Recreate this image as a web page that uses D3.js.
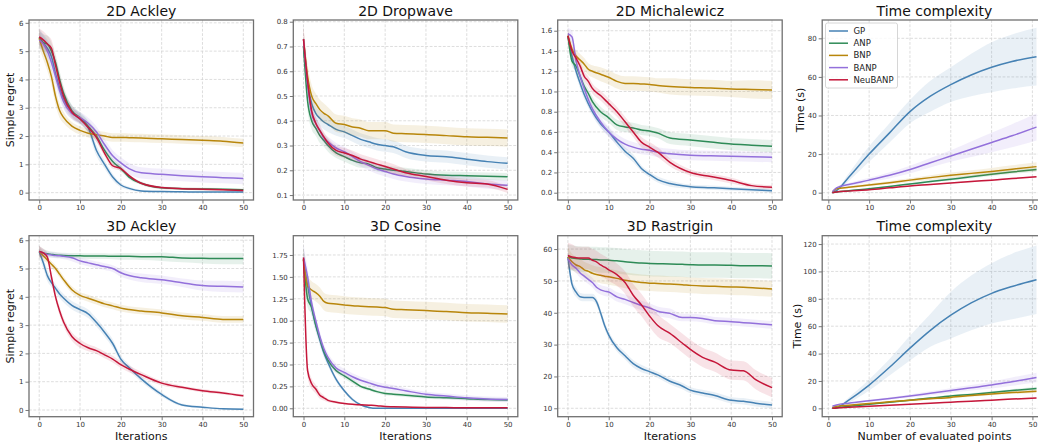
<!DOCTYPE html>
<html>
<head>
<meta charset="utf-8">
<script src="https://cdn.jsdelivr.net/npm/d3@7"></script>
<style>
  body { margin: 0; background: #fff; }
  text { font-family: "DejaVu Sans", sans-serif; }
</style>
</head>
<body>
<script>
// method names and colours (GP, ANP, BNP, BANP, NeuBANP)
const methods = ['GP', 'ANP', 'BNP', 'BANP', 'NeuBANP'];
const colors = ['#4682b4', '#2e8b57', '#b8860b', '#9370db', '#c5173a'];

// iteration grids
const iterX = [0, 1, 2, 3, 4, 5, 6, 8, 10, 12, 14, 16, 18, 20, 22, 25, 30, 35, 40, 45, 50];
const rastX = [0, 1, 2, 3, 4, 5, 6, 7, 8, 9, 10, 12, 14, 16, 18, 20, 22, 25, 28, 30, 33, 36, 40, 43, 46, 50];
const timeX = [1, 2, 5, 10, 15, 20, 25, 30, 35, 40, 45, 51];

// 2D Ackley
const ackley2dMean = [
  [5.5, 5.3, 5.1, 4.8, 4.2, 3.7, 3.3, 2.85, 2.6, 2.3, 1.5, 1.0, 0.55, 0.27, 0.15, 0.06, 0.04, 0.03, 0.02, 0.02, 0.02],
  [5.45, 5.3, 5.25, 5.0, 4.6, 4.0, 3.5, 2.9, 2.65, 2.35, 2.0, 1.5, 1.1, 0.85, 0.55, 0.33, 0.17, 0.14, 0.13, 0.12, 0.1],
  [5.45, 5.0, 4.6, 4.1, 3.4, 2.9, 2.65, 2.35, 2.2, 2.1, 2.05, 2.0, 1.95, 1.95, 1.94, 1.93, 1.9, 1.88, 1.85, 1.82, 1.75],
  [5.4, 5.25, 5.0, 4.6, 4.1, 3.6, 3.2, 2.8, 2.65, 2.45, 2.15, 1.7, 1.3, 1.05, 0.85, 0.7, 0.65, 0.6, 0.56, 0.53, 0.5],
  [5.5, 5.4, 5.25, 5.1, 4.5, 3.9, 3.4, 2.85, 2.6, 2.3, 1.95, 1.4, 0.95, 0.85, 0.6, 0.33, 0.18, 0.14, 0.12, 0.1, 0.08]
];
const ackley2dBand = [
  [0.3, 0.3, 0.3, 0.3, 0.3, 0.3, 0.3, 0.25, 0.2, 0.2, 0.2, 0.15, 0.12, 0.08, 0.06, 0.04, 0.03, 0.03, 0.02, 0.02, 0.02],
  [0.3, 0.3, 0.3, 0.3, 0.3, 0.3, 0.25, 0.2, 0.2, 0.2, 0.2, 0.15, 0.12, 0.1, 0.08, 0.06, 0.05, 0.05, 0.05, 0.04, 0.04],
  [0.3, 0.3, 0.3, 0.3, 0.3, 0.25, 0.2, 0.15, 0.15, 0.15, 0.15, 0.15, 0.15, 0.15, 0.15, 0.15, 0.15, 0.15, 0.15, 0.15, 0.15],
  [0.3, 0.3, 0.3, 0.3, 0.3, 0.3, 0.25, 0.2, 0.2, 0.2, 0.2, 0.2, 0.2, 0.2, 0.2, 0.2, 0.2, 0.2, 0.2, 0.2, 0.2],
  [0.3, 0.3, 0.3, 0.3, 0.3, 0.3, 0.25, 0.2, 0.15, 0.15, 0.15, 0.12, 0.1, 0.08, 0.06, 0.05, 0.04, 0.04, 0.04, 0.04, 0.04]
];

// 2D Dropwave
const dropwaveMean = [
  [0.70, 0.55, 0.47, 0.43, 0.41, 0.395, 0.385, 0.365, 0.355, 0.34, 0.325, 0.315, 0.305, 0.30, 0.295, 0.275, 0.26, 0.255, 0.245, 0.235, 0.228],
  [0.70, 0.48, 0.40, 0.37, 0.34, 0.32, 0.30, 0.27, 0.255, 0.24, 0.23, 0.225, 0.21, 0.205, 0.20, 0.195, 0.185, 0.18, 0.178, 0.176, 0.174],
  [0.73, 0.58, 0.50, 0.47, 0.445, 0.43, 0.42, 0.39, 0.385, 0.375, 0.37, 0.36, 0.36, 0.36, 0.35, 0.348, 0.345, 0.34, 0.335, 0.333, 0.33],
  [0.73, 0.55, 0.43, 0.39, 0.36, 0.33, 0.315, 0.29, 0.275, 0.255, 0.235, 0.22, 0.205, 0.195, 0.185, 0.175, 0.165, 0.16, 0.155, 0.145, 0.14],
  [0.73, 0.56, 0.44, 0.39, 0.36, 0.335, 0.31, 0.28, 0.27, 0.26, 0.245, 0.235, 0.225, 0.215, 0.205, 0.19, 0.175, 0.16, 0.15, 0.145, 0.123]
];
const dropwaveBand = [
  [0.04, 0.04, 0.035, 0.03, 0.03, 0.03, 0.03, 0.025, 0.025, 0.025, 0.025, 0.025, 0.025, 0.025, 0.025, 0.025, 0.025, 0.025, 0.025, 0.025, 0.025],
  [0.04, 0.04, 0.035, 0.03, 0.03, 0.025, 0.025, 0.02, 0.02, 0.02, 0.02, 0.015, 0.015, 0.015, 0.015, 0.015, 0.015, 0.015, 0.015, 0.015, 0.015],
  [0.05, 0.05, 0.045, 0.04, 0.04, 0.04, 0.035, 0.035, 0.035, 0.035, 0.035, 0.035, 0.035, 0.035, 0.035, 0.035, 0.035, 0.035, 0.035, 0.035, 0.035],
  [0.05, 0.04, 0.03, 0.025, 0.02, 0.02, 0.02, 0.02, 0.02, 0.02, 0.02, 0.02, 0.02, 0.02, 0.02, 0.02, 0.02, 0.02, 0.02, 0.02, 0.02],
  [0.05, 0.04, 0.03, 0.025, 0.025, 0.02, 0.02, 0.02, 0.02, 0.02, 0.02, 0.02, 0.02, 0.02, 0.02, 0.015, 0.015, 0.015, 0.015, 0.015, 0.015]
];

// 2D Michalewicz
const michalMean = [
  [1.55, 1.35, 1.2, 1.08, 0.97, 0.88, 0.8, 0.68, 0.6, 0.5, 0.41, 0.34, 0.24, 0.18, 0.13, 0.09, 0.06, 0.05, 0.04, 0.03, 0.02],
  [1.55, 1.3, 1.25, 1.15, 1.05, 0.98, 0.9, 0.80, 0.74, 0.67, 0.65, 0.64, 0.62, 0.61, 0.59, 0.54, 0.52, 0.5, 0.48, 0.47, 0.46],
  [1.55, 1.42, 1.35, 1.31, 1.27, 1.22, 1.2, 1.17, 1.14, 1.1, 1.08, 1.08, 1.075, 1.07, 1.06, 1.05, 1.04, 1.035, 1.025, 1.02, 1.015],
  [1.57, 1.54, 1.3, 1.15, 1.03, 0.92, 0.83, 0.7, 0.6, 0.53, 0.48, 0.45, 0.43, 0.42, 0.4, 0.385, 0.37, 0.365, 0.36, 0.355, 0.35],
  [1.55, 1.4, 1.33, 1.25, 1.15, 1.1, 1.03, 0.96, 0.88, 0.8, 0.7, 0.6, 0.5, 0.45, 0.4, 0.3, 0.2, 0.16, 0.12, 0.07, 0.055]
];
const michalBand = [
  [0.05, 0.05, 0.05, 0.05, 0.05, 0.04, 0.04, 0.04, 0.04, 0.04, 0.04, 0.04, 0.03, 0.03, 0.03, 0.03, 0.02, 0.02, 0.02, 0.02, 0.02],
  [0.05, 0.05, 0.05, 0.05, 0.05, 0.05, 0.05, 0.05, 0.05, 0.05, 0.05, 0.05, 0.05, 0.05, 0.05, 0.06, 0.06, 0.06, 0.06, 0.06, 0.06],
  [0.06, 0.06, 0.06, 0.06, 0.06, 0.06, 0.06, 0.07, 0.07, 0.07, 0.07, 0.07, 0.07, 0.07, 0.07, 0.08, 0.08, 0.08, 0.08, 0.09, 0.09],
  [0.06, 0.06, 0.05, 0.05, 0.05, 0.05, 0.05, 0.05, 0.05, 0.05, 0.05, 0.05, 0.05, 0.05, 0.05, 0.05, 0.05, 0.05, 0.05, 0.05, 0.05],
  [0.05, 0.05, 0.05, 0.05, 0.05, 0.05, 0.05, 0.05, 0.05, 0.05, 0.05, 0.05, 0.05, 0.05, 0.05, 0.04, 0.03, 0.03, 0.03, 0.02, 0.02]
];

// Time complexity (top)
const time2dMean = [
  [0, 1, 8, 20, 31, 42, 50, 56, 61, 65, 68, 70.5],
  [0, 0.3, 1, 2, 3.2, 4.5, 5.8, 7, 8.2, 9.5, 10.7, 12],
  [0.3, 2, 2.8, 4, 5.2, 6.5, 7.8, 9, 10, 11, 12.2, 13.5],
  [0.5, 2.5, 4.2, 6.5, 9, 12, 15.5, 19, 22.5, 26, 29.5, 34],
  [0, 0.3, 0.8, 1.5, 2.5, 3.5, 4.2, 5, 5.8, 6.5, 7.3, 8.2]
];
const time2dBand = [
  [0, 0.5, 2, 4, 5, 6, 8, 9, 11, 13, 14, 15],
  [0, 0.1, 0.2, 0.3, 0.4, 0.5, 0.6, 0.7, 0.8, 0.9, 1, 1.1],
  [0.1, 0.3, 0.5, 0.7, 0.9, 1, 1.2, 1.4, 1.6, 1.8, 2, 2.3],
  [0.1, 0.5, 0.8, 1.2, 1.6, 2, 2.5, 3, 4, 5, 6, 7],
  [0, 0.1, 0.1, 0.2, 0.2, 0.3, 0.3, 0.3, 0.4, 0.4, 0.4, 0.5]
];

// 3D Ackley
const ackley3dMean = [
  [5.6, 5.2, 4.75, 4.5, 4.3, 4.1, 3.95, 3.7, 3.55, 3.4, 3.1, 2.75, 2.35, 1.8, 1.5, 1.1, 0.55, 0.18, 0.1, 0.04, 0.03],
  [5.6, 5.55, 5.52, 5.5, 5.48, 5.47, 5.46, 5.45, 5.45, 5.44, 5.44, 5.44, 5.43, 5.43, 5.43, 5.42, 5.42, 5.37, 5.36, 5.35, 5.35],
  [5.6, 5.45, 5.3, 5.15, 5.0, 4.8, 4.6, 4.25, 4.05, 3.95, 3.85, 3.75, 3.68, 3.6, 3.55, 3.5, 3.43, 3.33, 3.27, 3.2, 3.2],
  [5.6, 5.55, 5.5, 5.48, 5.46, 5.45, 5.43, 5.38, 5.27, 5.2, 5.13, 5.07, 5.0, 4.85, 4.75, 4.67, 4.6, 4.5, 4.4, 4.37, 4.35],
  [5.6, 5.55, 5.4, 4.7, 4.0, 3.5, 3.1, 2.6, 2.35, 2.2, 2.1, 1.95, 1.8, 1.6, 1.45, 1.25, 0.95, 0.8, 0.68, 0.6, 0.5]
];
const ackley3dBand = [
  [0.2, 0.2, 0.2, 0.15, 0.15, 0.15, 0.15, 0.15, 0.15, 0.15, 0.15, 0.15, 0.15, 0.12, 0.12, 0.1, 0.08, 0.05, 0.04, 0.03, 0.03],
  [0.2, 0.15, 0.12, 0.1, 0.1, 0.1, 0.1, 0.1, 0.1, 0.1, 0.1, 0.1, 0.1, 0.12, 0.12, 0.12, 0.15, 0.15, 0.18, 0.2, 0.2],
  [0.2, 0.15, 0.12, 0.12, 0.12, 0.12, 0.12, 0.12, 0.12, 0.12, 0.12, 0.12, 0.12, 0.12, 0.12, 0.12, 0.12, 0.12, 0.12, 0.12, 0.12],
  [0.2, 0.12, 0.1, 0.1, 0.1, 0.1, 0.1, 0.12, 0.12, 0.12, 0.12, 0.12, 0.12, 0.14, 0.14, 0.15, 0.15, 0.15, 0.18, 0.2, 0.2],
  [0.2, 0.15, 0.15, 0.15, 0.15, 0.15, 0.15, 0.15, 0.15, 0.12, 0.12, 0.12, 0.12, 0.12, 0.12, 0.1, 0.08, 0.06, 0.06, 0.05, 0.05]
];

// 3D Cosine
const cosineMean = [
  [1.7, 1.4, 1.15, 0.95, 0.78, 0.63, 0.52, 0.33, 0.2, 0.1, 0.04, 0.01, 0.0, 0.0, 0.0, 0.0, 0.0, 0.0, 0.0, 0.0, 0.0],
  [1.7, 1.25, 1.15, 0.95, 0.8, 0.65, 0.55, 0.43, 0.37, 0.31, 0.25, 0.22, 0.19, 0.17, 0.16, 0.15, 0.13, 0.12, 0.11, 0.1, 0.095],
  [1.7, 1.4, 1.35, 1.32, 1.28, 1.22, 1.2, 1.19, 1.18, 1.17, 1.165, 1.16, 1.155, 1.15, 1.13, 1.125, 1.115, 1.105, 1.09, 1.085, 1.075],
  [1.72, 1.5, 1.2, 1.0, 0.82, 0.68, 0.58, 0.46, 0.41, 0.36, 0.32, 0.29, 0.26, 0.24, 0.225, 0.2, 0.16, 0.14, 0.12, 0.105, 0.1],
  [1.72, 0.43, 0.28, 0.22, 0.15, 0.12, 0.09, 0.07, 0.055, 0.045, 0.04, 0.035, 0.03, 0.02, 0.018, 0.015, 0.01, 0.008, 0.006, 0.005, 0.005]
];
const cosineBand = [
  [0.15, 0.1, 0.1, 0.08, 0.06, 0.05, 0.04, 0.03, 0.02, 0.02, 0.01, 0.01, 0.005, 0.005, 0.005, 0.005, 0.005, 0.005, 0.005, 0.005, 0.005],
  [0.15, 0.1, 0.08, 0.06, 0.05, 0.04, 0.04, 0.03, 0.03, 0.03, 0.02, 0.02, 0.02, 0.02, 0.02, 0.02, 0.02, 0.02, 0.02, 0.02, 0.02],
  [0.15, 0.12, 0.1, 0.1, 0.1, 0.1, 0.1, 0.1, 0.1, 0.1, 0.1, 0.1, 0.1, 0.1, 0.1, 0.1, 0.1, 0.1, 0.1, 0.1, 0.1],
  [0.15, 0.1, 0.08, 0.06, 0.06, 0.05, 0.05, 0.05, 0.04, 0.04, 0.04, 0.04, 0.04, 0.04, 0.04, 0.03, 0.03, 0.03, 0.03, 0.03, 0.03],
  [0.1, 0.08, 0.06, 0.05, 0.04, 0.03, 0.02, 0.015, 0.01, 0.01, 0.01, 0.01, 0.005, 0.005, 0.005, 0.005, 0.005, 0.005, 0.005, 0.005, 0.005]
];

// 3D Rastrigin
const rastMean = [
  [57.5, 49, 46.5, 45, 44.8, 44.8, 44.8, 43.5, 40, 36, 33, 29, 26.5, 24, 22.5, 21.5, 20.5, 18.5, 17, 15.7, 14.8, 14, 12.5, 12.2, 11.6, 11],
  [57.5, 57.2, 57, 56.9, 56.8, 56.8, 56.7, 56.7, 56.6, 56.6, 56.5, 56.3, 56, 55.8, 55.6, 55.5, 55.4, 55.3, 55.2, 55.1, 55, 55, 54.9, 54.8, 54.8, 54.7],
  [57.5, 56, 55, 54.5, 53.5, 53, 52.4, 52, 51.8, 51.5, 51.3, 50.8, 50.2, 49.8, 49.5, 49.3, 49.2, 49, 48.8, 48.6, 48.4, 48.3, 48.1, 48, 47.8, 47.5],
  [57, 55, 54, 52.5, 51.5, 50.5, 49.5, 48, 47.2, 46.8, 46.5, 45, 44.2, 43.2, 42.3, 41.5, 40.5, 39.8, 38.5, 38.5, 38.2, 37.5, 37.2, 36.9, 36.6, 36.2],
  [58, 57.5, 57.3, 57.2, 57.2, 57.2, 56.5, 56, 55, 54.3, 53.5, 52, 49.5, 45.5, 42.5, 39, 36, 33.5, 30.5, 28.5, 26, 24.5, 22, 21.8, 19, 16.5]
];
const rastBand = [
  [2, 1.5, 1.5, 1.2, 1.2, 1.2, 1.2, 1.2, 1.2, 1.2, 1.2, 1.2, 1.2, 1.2, 1.2, 1, 1, 1, 1, 1, 1, 1, 1, 1, 1, 1],
  [4, 4, 4, 4, 4, 4, 4, 4, 4, 4, 4, 4, 4, 4, 4, 4, 4, 4, 4, 4, 4, 4, 4, 4, 4, 4],
  [3, 2.5, 2.5, 2.5, 2.5, 2.5, 2.5, 2.5, 2.5, 2.5, 2.5, 2.5, 2.5, 2.5, 2.5, 2.5, 2.5, 2.5, 2.5, 2.5, 2.5, 2.5, 2.5, 2.5, 2.5, 2.5],
  [2, 1.5, 1.5, 1.5, 1.5, 1.5, 1.5, 1.5, 1.5, 1.5, 1.5, 1.5, 1.5, 1.5, 1.5, 1.5, 1.5, 1.5, 1.2, 1.2, 1.2, 1.2, 1.2, 1.2, 1.2, 1.2],
  [4, 4, 3.5, 3.5, 3.5, 3.5, 3.5, 3.5, 3.5, 3.5, 3.5, 3.5, 3.5, 3.5, 3.5, 3.5, 3.5, 3, 3, 3, 3, 3, 3, 3, 3, 3]
];

// Time complexity (bottom)
const time3dMean = [
  [0, 0.5, 6, 17, 30, 44, 57, 68, 77, 84, 89, 94],
  [0, 0.5, 1.5, 3, 4.5, 6, 7.5, 9, 10.2, 11.5, 13, 14.5],
  [0.5, 1.5, 2.3, 3.5, 4.8, 6, 7, 8, 9.3, 10.5, 11.5, 12.5],
  [1.5, 2.5, 3.8, 5.5, 7.2, 9, 11, 13, 15, 17, 19.5, 22.5],
  [0, 0.3, 0.8, 1.5, 2.3, 3, 3.8, 4.5, 5.2, 6, 6.8, 7.5]
];
const time3dBand = [
  [0, 0.3, 2, 4, 6, 9, 12, 17, 20, 22, 24, 25],
  [0, 0.1, 0.2, 0.3, 0.4, 0.5, 0.6, 0.7, 0.8, 0.9, 1, 1.2],
  [0.1, 0.2, 0.3, 0.4, 0.5, 0.6, 0.7, 0.8, 0.9, 1, 1.1, 1.2],
  [0.2, 0.3, 0.5, 0.7, 0.9, 1.1, 1.4, 1.7, 2, 2.5, 3, 3.5],
  [0, 0.05, 0.1, 0.15, 0.2, 0.25, 0.3, 0.35, 0.4, 0.45, 0.5, 0.5]
];

const xTicks = [0, 10, 20, 30, 40, 50];

// panel table
const panels = [
  { title: '2D Ackley', xs: iterX, mean: ackley2dMean, band: ackley2dBand, xDom: [-2.5, 52.5], yDom: [-0.26, 6.10],
    yTicks: [0, 1, 2, 3, 4, 5, 6], fmt: d3.format('d'), col: 0, row: 0, ylabel: 'Simple regret', ylabelOff: 15 },
  { title: '2D Dropwave', xs: iterX, mean: dropwaveMean, band: dropwaveBand, xDom: [-2.5, 52.5], yDom: [0.08, 0.807],
    yTicks: [0.1, 0.2, 0.3, 0.4, 0.5, 0.6, 0.7, 0.8], fmt: d3.format('.1f'), col: 1, row: 0 },
  { title: '2D Michalewicz', xs: iterX, mean: michalMean, band: michalBand, xDom: [-2.5, 52.5], yDom: [-0.072, 1.706],
    yTicks: [0, 0.2, 0.4, 0.6, 0.8, 1.0, 1.2, 1.4, 1.6], fmt: d3.format('.1f'), col: 2, row: 0 },
  { title: 'Time complexity', xs: timeX, mean: time2dMean, band: time2dBand, xDom: [-1.5, 53.5], yDom: [-3.8, 89.5],
    yTicks: [0, 20, 40, 60, 80], fmt: d3.format('d'), col: 3, row: 0, ylabel: 'Time (s)', ylabelOff: 18.7, legend: true },
  { title: '3D Ackley', xs: iterX, mean: ackley3dMean, band: ackley3dBand, xDom: [-2.5, 52.5], yDom: [-0.237, 6.16],
    yTicks: [0, 1, 2, 3, 4, 5, 6], fmt: d3.format('d'), col: 0, row: 1, ylabel: 'Simple regret', ylabelOff: 15, xlabel: 'Iterations' },
  { title: '3D Cosine', xs: iterX, mean: cosineMean, band: cosineBand, xDom: [-2.5, 52.5], yDom: [-0.096, 1.97],
    yTicks: [0, 0.25, 0.5, 0.75, 1.0, 1.25, 1.5, 1.75], fmt: d3.format('.2f'), col: 1, row: 1, xlabel: 'Iterations' },
  { title: '3D Rastrigin', xs: rastX, mean: rastMean, band: rastBand, xDom: [-2.5, 52.5], yDom: [7.36, 64.2],
    yTicks: [10, 20, 30, 40, 50, 60], fmt: d3.format('d'), col: 2, row: 1, xlabel: 'Iterations' },
  { title: 'Time complexity', xs: timeX, mean: time3dMean, band: time3dBand, xDom: [-1.5, 53.5], yDom: [-6.1, 126.1],
    yTicks: [0, 20, 40, 60, 80, 100, 120], fmt: d3.format('d'), col: 3, row: 1, ylabel: 'Time (s)', ylabelOff: 21.2, xlabel: 'Number of evaluated points' }
];

// layout
const lefts = [29, 293.3, 557.7, 822.2];
const panelW = 224.5;
const tops = [20, 235.7];
const heights = [180, 181];

const svg = d3.select('body').append('svg')
  .attr('width', 1038)
  .attr('height', 444);

panels.forEach((p, pi) => {
  const l = lefts[p.col], t = tops[p.row], h = heights[p.row];
  const x = d3.scaleLinear().domain(p.xDom).range([l, l + panelW]);
  const y = d3.scaleLinear().domain(p.yDom).range([t + h, t]);
  const g = svg.append('g');

  g.append('clipPath').attr('id', 'clip' + pi)
    .append('rect').attr('x', l).attr('y', t).attr('width', panelW).attr('height', h);

  // grid
  const grid = g.append('g')
    .attr('stroke', '#d4d4d4')
    .attr('stroke-width', 0.8)
    .attr('stroke-dasharray', '2.8,1.6');
  grid.selectAll('.vg').data(xTicks).enter().append('line')
    .attr('x1', d => x(d)).attr('x2', d => x(d)).attr('y1', t).attr('y2', t + h);
  grid.selectAll('.hg').data(p.yTicks).enter().append('line')
    .attr('y1', d => y(d)).attr('y2', d => y(d)).attr('x1', l).attr('x2', l + panelW);

  const plot = g.append('g').attr('clip-path', `url(#clip${pi})`);

  methods.forEach((m, mi) => {
    const mean = p.mean[mi], band = p.band[mi];
    const area = d3.area()
      .x((d, i) => x(p.xs[i]))
      .y0((d, i) => y(d - band[i]))
      .y1((d, i) => y(d + band[i]))
      .curve(d3.curveMonotoneX);
    plot.append('path')
      .attr('d', area(mean))
      .attr('fill', colors[mi])
      .attr('fill-opacity', 0.12);

    const line = d3.line()
      .x((d, i) => x(p.xs[i]))
      .y(d => y(d))
      .curve(d3.curveMonotoneX);
    plot.append('path')
      .attr('d', line(mean))
      .attr('fill', 'none')
      .attr('stroke', colors[mi])
      .attr('stroke-width', 1.5);
  });

  // axes
  const yAxis = g.append('g')
    .attr('transform', `translate(${l},0)`)
    .call(d3.axisLeft(y).tickValues(p.yTicks).tickFormat(p.fmt).tickSize(3.5).tickPadding(2));
  const xAxis = g.append('g')
    .attr('transform', `translate(0,${t + h})`)
    .call(d3.axisBottom(x).tickValues(xTicks).tickFormat(d3.format('d')).tickSize(3.5).tickPadding(1.8));
  [yAxis, xAxis].forEach(a => {
    a.select('.domain').remove();
    a.selectAll('line').attr('stroke', '#555').attr('stroke-width', 0.8);
    a.selectAll('text')
      .attr('fill', '#333')
      .style('font-family', '"DejaVu Sans", sans-serif')
      .style('font-size', '7px');
  });

  // frame
  g.append('rect')
    .attr('x', l).attr('y', t).attr('width', panelW).attr('height', h)
    .attr('fill', 'none')
    .attr('stroke', '#707070')
    .attr('stroke-width', 1.3);

  // title
  g.append('text')
    .attr('x', l + panelW / 2).attr('y', t - 4.5)
    .attr('text-anchor', 'middle')
    .style('font-size', '14px')
    .attr('fill', '#111')
    .text(p.title);

  if (p.ylabel) {
    g.append('text')
      .attr('transform', `translate(${l - p.ylabelOff},${t + h / 2}) rotate(-90)`)
      .attr('text-anchor', 'middle')
      .style('font-size', '11px')
      .attr('fill', '#111')
      .text(p.ylabel);
  }
  if (p.xlabel) {
    g.append('text')
      .attr('x', l + panelW / 2).attr('y', t + h + 23.5)
      .attr('text-anchor', 'middle')
      .style('font-size', '11px')
      .attr('fill', '#111')
      .text(p.xlabel);
  }

  if (p.legend) {
    const lg = g.append('g');
    lg.append('rect')
      .attr('x', 825.5).attr('y', 23).attr('width', 72).attr('height', 65)
      .attr('rx', 2)
      .attr('fill', '#fff').attr('fill-opacity', 0.8)
      .attr('stroke', '#cccccc').attr('stroke-width', 0.8);
    methods.forEach((m, mi) => {
      const cy = 31 + mi * 12.2;
      lg.append('line')
        .attr('x1', 829).attr('x2', 848).attr('y1', cy).attr('y2', cy)
        .attr('stroke', colors[mi]).attr('stroke-width', 1.5);
      lg.append('text')
        .attr('x', 853.5).attr('y', cy + 3)
        .style('font-size', '8.5px')
        .attr('fill', '#222')
        .text(m);
    });
  }
});
</script>
</body>
</html>
